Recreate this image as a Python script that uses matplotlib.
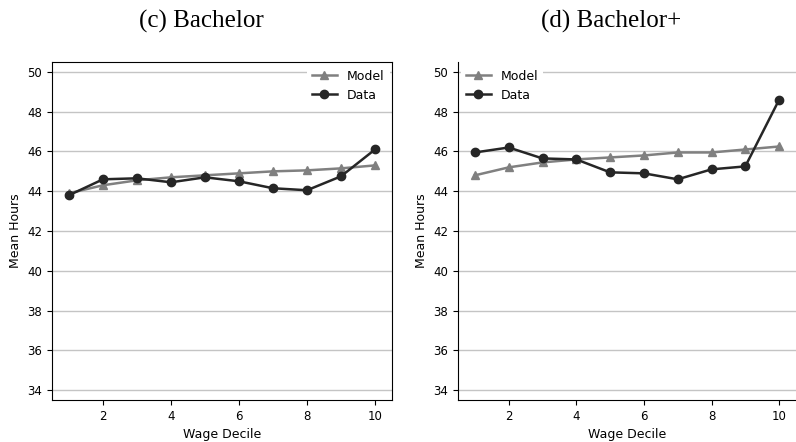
import matplotlib
matplotlib.use("Agg")
import matplotlib.pyplot as plt

deciles = [1, 2, 3, 4, 5, 6, 7, 8, 9, 10]
bach_model = [43.9, 44.3, 44.55, 44.7, 44.8, 44.9, 45.0, 45.05, 45.15, 45.3]
bach_data = [43.8, 44.6, 44.65, 44.45, 44.7, 44.5, 44.15, 44.05, 44.75, 46.1]
bachp_model = [44.8, 45.2, 45.45, 45.6, 45.7, 45.8, 45.95, 45.95, 46.1, 46.25]
bachp_data = [45.95, 46.2, 45.65, 45.6, 44.95, 44.9, 44.6, 45.1, 45.25, 48.6]
titles = ["(c) Bachelor", "(d) Bachelor+"]
yticks = [34, 36, 38, 40, 42, 44, 46, 48, 50]
xticks = [2, 4, 6, 8, 10]

fig = plt.figure(figsize=(7.96, 4.42), dpi=100)
ax1 = fig.add_axes([52/796, 42/442, 340/796, 338/442])
ax2 = fig.add_axes([458/796, 42/442, 338/796, 338/442])

for ax, m, d, loc in [(ax1, bach_model, bach_data, "upper right"),
                      (ax2, bachp_model, bachp_data, "upper left")]:
    ax.set_axisbelow(True)
    ax.yaxis.grid(True, color="#c4c4c4", linewidth=1)
    ax.plot(deciles, m, marker="^", color="#808080", linewidth=1.8, markersize=6, label="Model")
    ax.plot(deciles, d, marker="o", color="#262626", linewidth=1.8, markersize=6, label="Data")
    ax.set_xlim(0.5, 10.5)
    ax.set_ylim(33.5, 50.5)
    ax.set_xticks(xticks)
    ax.set_yticks(yticks)
    ax.tick_params(labelsize=8.5)
    ax.set_xlabel("Wage Decile", fontsize=9)
    ax.set_ylabel("Mean Hours", fontsize=9)
    leg = ax.legend(loc=loc, fontsize=9, frameon=True, fancybox=False, borderaxespad=0.2)
    leg.get_frame().set_edgecolor("none")
    leg.get_frame().set_alpha(1)

ax2.spines["top"].set_visible(False)
ax2.spines["right"].set_visible(False)

fig.text(201/796, 1 - 21/442, titles[0], ha="center", va="center",
         fontsize=18, family="Liberation Serif")
fig.text(611/796, 1 - 21/442, titles[1], ha="center", va="center",
         fontsize=18, family="Liberation Serif")

fig.savefig("out.png", dpi=100)
